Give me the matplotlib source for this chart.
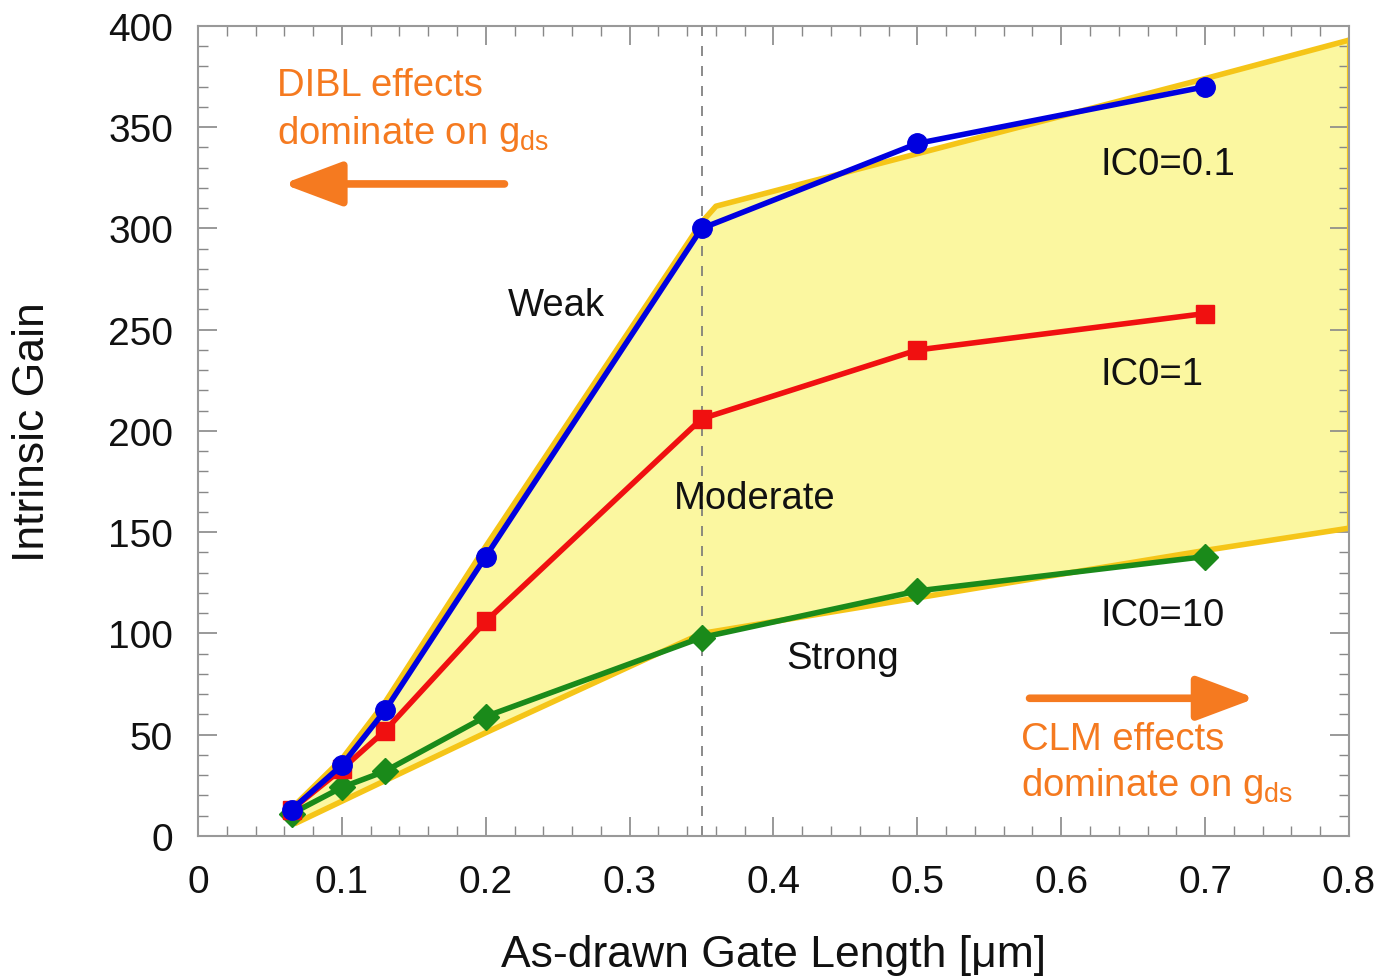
import matplotlib
matplotlib.use("Agg")
import matplotlib.pyplot as plt
from matplotlib.ticker import MultipleLocator

plt.rcParams['font.family'] = ['Liberation Sans', 'DejaVu Sans']

# Data
gate_length = [0.065, 0.1, 0.13, 0.2, 0.35, 0.5, 0.7]
gain_ic01 = [13, 35, 62, 138, 300, 342, 370]
gain_ic1 = [13, 33, 52, 106, 206, 240, 258]
gain_ic10 = [11, 24, 32, 59, 98, 121, 138]

band_upper_x = [0.067, 0.1, 0.13, 0.2, 0.35, 0.36, 0.7, 0.8]
band_upper_y = [15, 38, 66, 143, 303, 311, 374, 393]
band_lower_x = [0.067, 0.2, 0.35, 0.7, 0.8]
band_lower_y = [6, 51, 100, 141, 152]

x_ticks = [0, 0.1, 0.2, 0.3, 0.4, 0.5, 0.6, 0.7, 0.8]
x_ticklabels = ['0', '0.1', '0.2', '0.3', '0.4', '0.5', '0.6', '0.7', '0.8']
y_ticks = [0, 50, 100, 150, 200, 250, 300, 350, 400]

fig = plt.figure(figsize=(13.79, 9.78), dpi=100)
ax = fig.add_axes([0.1436, 0.1442, 0.8346, 0.8282])

# yellow band
poly_x = band_upper_x + band_lower_x[::-1]
poly_y = band_upper_y + band_lower_y[::-1]
ax.fill(poly_x, poly_y, facecolor='#FBF7A0', edgecolor='none', zorder=1)
ax.plot(band_upper_x, band_upper_y, color='#F5C518', lw=4, zorder=2, solid_capstyle='butt')
ax.plot(band_lower_x, band_lower_y, color='#F5C518', lw=4, zorder=2, solid_capstyle='butt')
ax.plot([0.8, 0.8], [152, 393], color='#F5C518', lw=3, zorder=2)

ax.axvline(0.35, color='#777777', lw=1.2, ls=(0, (6, 6)), zorder=1.5)

ax.plot(gate_length, gain_ic01, color='#0000E0', lw=4, marker='o', ms=14, zorder=5)
ax.plot(gate_length, gain_ic1, color='#F01010', lw=4, marker='s', ms=13, zorder=4)
ax.plot(gate_length, gain_ic10, color='#1A8A1A', lw=4, marker='D', ms=13, zorder=3)

ax.set_xlim(0, 0.8)
ax.set_ylim(0, 400)
ax.set_xticks(x_ticks)
ax.set_xticklabels(x_ticklabels)
ax.set_yticks(y_ticks)
ax.xaxis.set_minor_locator(MultipleLocator(0.02))
ax.yaxis.set_minor_locator(MultipleLocator(10))
ax.tick_params(which='both', direction='in', top=True, right=True, color='#888888')
ax.tick_params(which='major', length=14, width=1.2, labelsize=28, labelcolor='#111111')
ax.tick_params(axis='x', which='major', pad=20)
ax.tick_params(axis='y', which='major', pad=18)
ax.tick_params(which='minor', length=7, width=1.0)
for s in ax.spines.values():
    s.set_color('#999999')
    s.set_linewidth(1.5)

ax.set_xlabel('As-drawn Gate Length [μm]', fontsize=32, color='#111111')
ax.set_ylabel('Intrinsic Gain', fontsize=32, color='#111111')
ax.xaxis.label.set_va('center')
ax.yaxis.label.set_va('center')
ax.xaxis.set_label_coords(0.5, -0.146)
ax.yaxis.set_label_coords(-0.144, 0.5)

tc = '#111111'
fs = 27.5
ax.text(0.249, 262, 'Weak', fontsize=fs, ha='center', va='center', color=tc)
ax.text(0.387, 167, 'Moderate', fontsize=fs, ha='center', va='center', color=tc)
ax.text(0.448, 88, 'Strong', fontsize=fs, ha='center', va='center', color=tc)
ax.text(0.627, 332, 'IC0=0.1', fontsize=fs, ha='left', va='center', color=tc)
ax.text(0.627, 228, 'IC0=1', fontsize=fs, ha='left', va='center', color=tc)
ax.text(0.627, 109, 'IC0=10', fontsize=fs, ha='left', va='center', color=tc)

orange = '#F57A20'
ax.text(0.055, 371, 'DIBL effects', fontsize=fs, ha='left', va='center', color=orange)
ax.text(0.055, 347, 'dominate on g$_{\\mathregular{ds}}$', fontsize=fs, ha='left', va='center', color=orange)
ax.text(0.572, 48, 'CLM effects', fontsize=fs, ha='left', va='center', color=orange)
ax.text(0.572, 25, 'dominate on g$_{\\mathregular{ds}}$', fontsize=fs, ha='left', va='center', color=orange)

arrow_style = '-|>,head_length=3.6,head_width=1.35'
ax.annotate('', xy=(0.059, 322), xytext=(0.213, 322),
            arrowprops=dict(arrowstyle=arrow_style, color=orange, lw=5.5,
                            shrinkA=0, shrinkB=0),
            zorder=6)
ax.annotate('', xy=(0.735, 68), xytext=(0.578, 68),
            arrowprops=dict(arrowstyle=arrow_style, color=orange, lw=5.5,
                            shrinkA=0, shrinkB=0),
            zorder=6)

fig.savefig('out.png', dpi=100)
